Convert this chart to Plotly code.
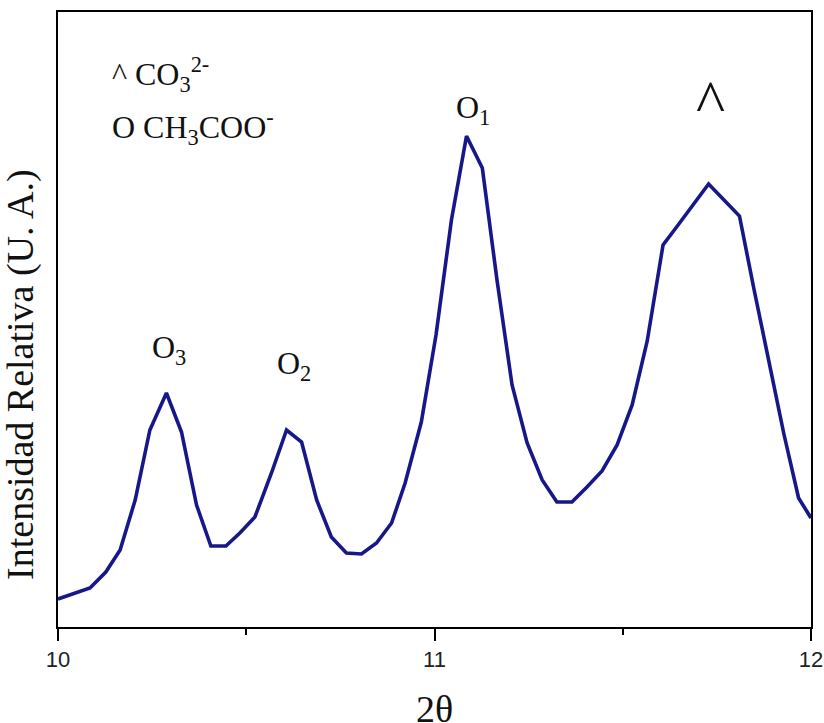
import plotly.graph_objects as go

# Diffractogram, relative intensity vs 2-theta
two_theta = [10.000, 10.085, 10.127, 10.165, 10.205, 10.244, 10.288, 10.328, 10.368, 10.406,
             10.446, 10.483, 10.523, 10.567, 10.607, 10.647, 10.687, 10.726, 10.766, 10.806,
             10.846, 10.886, 10.922, 10.965, 11.004, 11.045, 11.085, 11.127, 11.166, 11.206,
             11.246, 11.286, 11.325, 11.365, 11.405, 11.445, 11.485, 11.525, 11.565, 11.607,
             11.647, 11.687, 11.728, 11.769, 11.810, 11.849, 11.888, 11.928, 11.967, 12.000]
intensity = [28, 39, 55, 77, 127, 197, 234, 195, 122, 81,
             81, 94, 110, 154, 197, 185, 127, 90, 74, 73,
             84, 104, 144, 205, 292, 407, 491, 459, 347, 242,
             184, 147, 125, 125, 140, 156, 182, 222, 286, 382,
             402, 422, 443, 427, 411, 337, 265, 193, 129, 109]

x_ticks = [10, 11, 12]
x_ticklabels = ["10", "11", "12"]

# Peak markers: (text, x, y)
peak_labels = [
    ("O<sub>3</sub>", 10.244, 278),
    ("O<sub>2</sub>", 10.577, 262),
    ("O<sub>1</sub>", 11.051, 518),
    ("^", 11.688, 525),
]
legend_lines = [
    ("^ CO<sub>3</sub><sup>2-</sup>", 10.138, 553),
    ("O CH<sub>3</sub>COO<sup>-</sup>", 10.138, 500),
]

SERIF = "Liberation Serif, Times New Roman, serif"
LINE_COLOR = "#17178a"

fig = go.Figure()
fig.add_trace(go.Scatter(
    x=two_theta, y=intensity, mode="lines",
    line=dict(color=LINE_COLOR, width=3.6),
    hoverinfo="skip", showlegend=False,
))

for text, x, y in peak_labels:
    size = 62 if text == "^" else 32
    fig.add_annotation(x=x, y=y, text=text, showarrow=False,
                       xanchor="left", yanchor="middle",
                       font=dict(family=SERIF, size=size, color="#111111"))

for text, x, y in legend_lines:
    fig.add_annotation(x=x, y=y, text=text, showarrow=False,
                       xanchor="left", yanchor="middle",
                       font=dict(family=SERIF, size=32, color="#111111"))

# Axis titles
fig.add_annotation(xref="paper", yref="paper", x=-0.049, y=0.41,
                   text="Intensidad Relativa (U. A.)", textangle=-90,
                   showarrow=False, xanchor="center", yanchor="middle",
                   font=dict(family=SERIF, size=38, color="#111111"))
fig.add_annotation(xref="paper", yref="paper", x=0.5, y=-0.133,
                   text="2θ", showarrow=False, xanchor="center", yanchor="middle",
                   font=dict(family=SERIF, size=38, color="#111111"))

fig.update_xaxes(
    range=[10, 12], tickvals=x_ticks, ticktext=x_ticklabels,
    ticks="outside", ticklen=12, tickwidth=2, tickcolor="black",
    minor=dict(dtick=0.5, ticks="outside", ticklen=6, tickwidth=2, tickcolor="black"),
    showline=True, linecolor="black", linewidth=2, mirror=True,
    showgrid=False, zeroline=False, automargin=False,
    tickfont=dict(family="Liberation Sans, Arial, sans-serif", size=22, color="#222222"),
)
fig.update_yaxes(
    range=[0, 615], showticklabels=False, ticks="",
    showline=True, linecolor="black", linewidth=2, mirror=True,
    showgrid=False, zeroline=False, automargin=False,
)
fig.update_layout(
    width=824, height=723, autosize=False,
    margin=dict(l=58, r=13, t=12, b=96),
    paper_bgcolor="white", plot_bgcolor="white",
)

fig.write_html("out.html", config={"responsive": False})
